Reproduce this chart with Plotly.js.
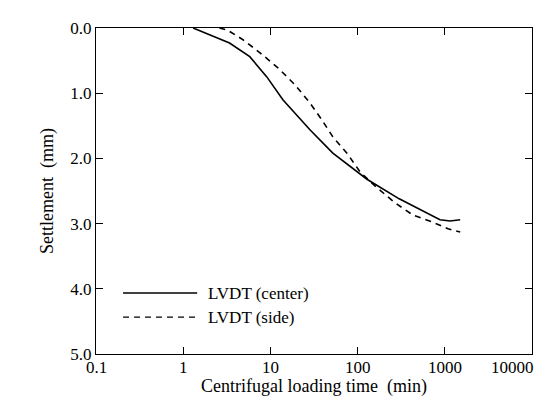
<!DOCTYPE html>
<html><head><meta charset="utf-8">
<script src="https://cdn.plot.ly/plotly-3.0.1.min.js"></script>
<style>html,body{margin:0;padding:0;background:#fff}#chart{width:544px;height:411px}</style>
</head><body><div id="chart"></div>
<script>
const centerTime = [1.3, 2.2, 3.4, 5.8, 9.1, 13.9, 28.4, 52, 128, 300, 625, 880, 1150, 1500];
const centerSettle = [0.0, 0.12, 0.23, 0.44, 0.75, 1.10, 1.56, 1.92, 2.32, 2.62, 2.84, 2.94, 2.96, 2.94];
const sideTime = [2.6, 3.2, 4.85, 7.6, 12.2, 19.1, 28.4, 39, 52, 75.5, 107, 167, 268, 432, 733, 1090, 1500];
const sideSettle = [0.0, 0.03, 0.18, 0.38, 0.61, 0.87, 1.15, 1.41, 1.67, 1.92, 2.21, 2.45, 2.68, 2.87, 2.98, 3.08, 3.13];
const seriesNames = ['LVDT (center)', 'LVDT (side)'];
const xTickVals = [0.1, 1, 10, 100, 1000, 10000];
const xTickText = ['0.1', '1', '10', '100', '1000', '10000'];
const yTickVals = [0, 1, 2, 3, 4, 5];
const yTickText = ['0.0', '1.0', '2.0', '3.0', '4.0', '5.0'];
const xTitle = 'Centrifugal loading time\u00a0 (min)';

const ff = 'Liberation Serif';
const traces = [
  {x: centerTime, y: centerSettle, mode: 'lines', name: seriesNames[0], line: {color: '#000', width: 1.6}, showlegend: false},
  {x: sideTime, y: sideSettle, mode: 'lines', name: seriesNames[1], line: {color: '#000', width: 1.6, dash: '6px,5px'}, showlegend: false}
];
const legY = [0.187, 0.113];
const xLabelAnns = xTickVals.map((v, i) => ({
  xref: 'x', yref: 'paper', x: Math.log10(v), y: 0, yanchor: 'top', yshift: -2,
  xanchor: i === xTickVals.length - 1 ? 'right' : 'center', xshift: i === xTickVals.length - 1 ? 4 : 0,
  text: xTickText[i], showarrow: false, font: {family: ff, size: 17, color: '#000'}
}));
const layout = {
  width: 544, height: 411,
  margin: {l: 96, r: 12, t: 28, b: 57},
  paper_bgcolor: '#fff', plot_bgcolor: '#fff',
  xaxis: {type: 'log', range: [-1, 4], dtick: 1, showticklabels: false,
    ticks: 'inside', ticklen: 7, tickcolor: '#000', showline: true, linecolor: '#000', mirror: 'ticks',
    showgrid: false, zeroline: false},
  yaxis: {range: [5, 0], tickmode: 'array', tickvals: yTickVals, ticktext: yTickText,
    ticks: 'inside', ticklen: 7, tickcolor: '#000', showline: true, linecolor: '#000', mirror: 'ticks',
    showgrid: false, zeroline: false, tickfont: {size: 17, family: ff, color: '#000'},
    title: {text: 'Settlement\u00a0 (mm)', font: {size: 18, family: ff, color: '#000'}, standoff: 12}},
  shapes: [
    {type: 'line', xref: 'paper', yref: 'paper', x0: 0.062, x1: 0.232, y0: legY[0], y1: legY[0], line: {color: '#000', width: 1.6}},
    {type: 'line', xref: 'paper', yref: 'paper', x0: 0.062, x1: 0.232, y0: legY[1], y1: legY[1], line: {color: '#000', width: 1.3, dash: '6px,5px'}}
  ],
  annotations: [
    {xref: 'paper', yref: 'paper', x: 0.252, y: legY[0], xanchor: 'left', yanchor: 'middle', text: seriesNames[0], showarrow: false, font: {size: 17, family: ff, color: '#000'}},
    {xref: 'paper', yref: 'paper', x: 0.252, y: legY[1], xanchor: 'left', yanchor: 'middle', text: seriesNames[1], showarrow: false, font: {size: 17, family: ff, color: '#000'}},
    {xref: 'paper', yref: 'paper', x: 0.5, y: 0, xanchor: 'center', yanchor: 'top', yshift: -20, text: xTitle, showarrow: false, font: {size: 18, family: ff, color: '#000'}}
  ].concat(xLabelAnns)
};
Plotly.newPlot('chart', traces, layout, {displayModeBar: false, staticPlot: true});
</script></body></html>
